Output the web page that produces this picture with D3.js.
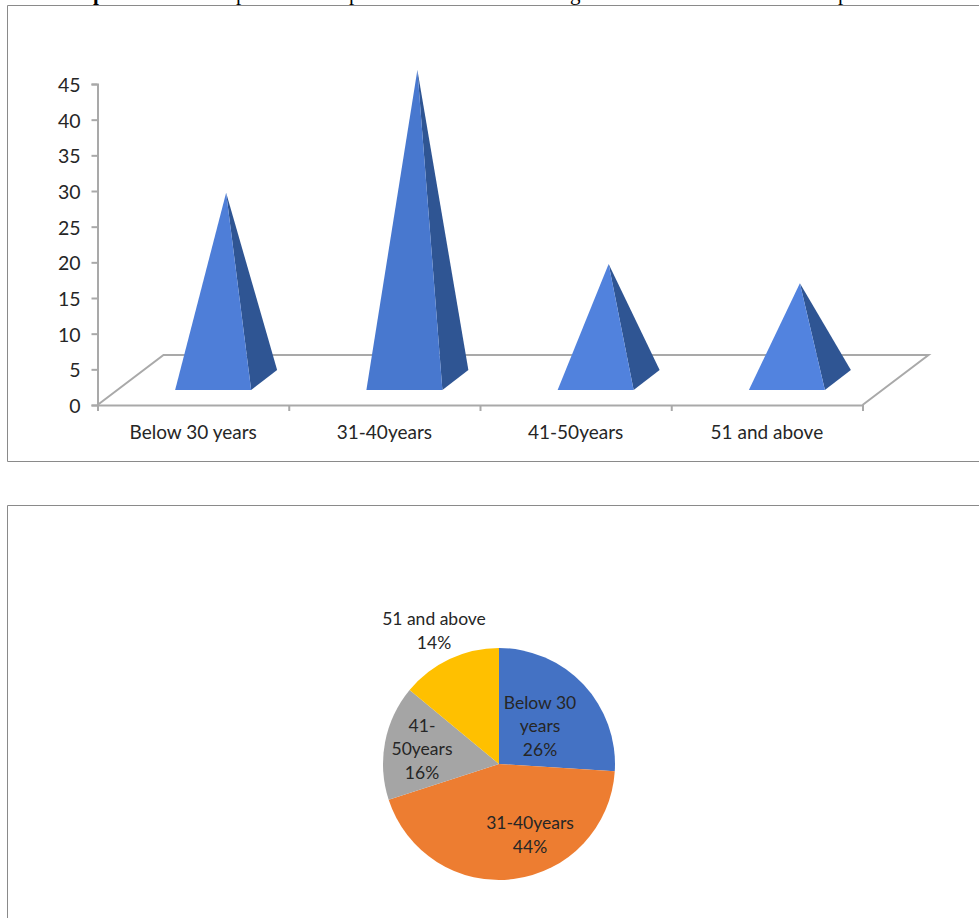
<!DOCTYPE html>
<html>
<head>
<meta charset="utf-8">
<script src="https://cdnjs.cloudflare.com/ajax/libs/d3/7.8.5/d3.min.js"></script>
<style>
  html, body { margin: 0; padding: 0; background: #fff; overflow: hidden; }
  svg { display: block; }
  text { font-family: Lato, "Open Sans", sans-serif; fill: #262626; }
</style>
</head>
<body>
<svg id="chart" width="979" height="918"></svg>
<script>
// Age groups and the two series
const categories = ["Below 30 years", "31-40years", "41-50years", "51 and above"];
const pyramidValues = [26.4, 43.6, 16.4, 13.7];
const yTicks = [0, 5, 10, 15, 20, 25, 30, 35, 40, 45];
const pieShares = [26, 44, 16, 14];
const pieLabels = [
  ["Below 30", "years", "26%"],
  ["31-40years", "44%"],
  ["41-", "50years", "16%"],
  ["51 and above", "14%"]
];
const pieColors = ["#4472c4", "#ed7d31", "#a5a5a5", "#ffc000"];

// Tails of the heading line that runs off the top of the page
const headingGlyphs = ["p", "p", "p", "g", "p"];

const svg = d3.select("#chart");
const gray = "#a9a9a9";

// Panel frames, both open towards the page edge
const frames = svg.append("g").attr("fill", "none").attr("stroke", "#8a8a8a").attr("stroke-width", 1);
frames.append("path").attr("d", "M979,5.5H7.5V461.5H979");
frames.append("path").attr("d", "M979,505.5H7.5V918");

// Heading tails
const headingX = d3.scaleOrdinal().domain(d3.range(5)).range([93, 236, 349, 570, 838]);
svg.append("g").selectAll("text")
  .data(headingGlyphs)
  .join("text")
  .attr("x", (d, i) => headingX(i))
  .attr("y", 0)
  .style("font-family", "'Liberation Serif', serif")
  .style("font-size", "21px")
  .style("font-weight", (d, i) => i === 0 ? "bold" : "normal")
  .style("fill", "#000")
  .text(d => d);

// Pyramid chart
const x = d3.scaleBand().domain(categories).range([97.5, 862.5]);
const y = d3.scaleLinear().domain([0, 45]).range([405, 84]);

// Floor of the 3D plot
const depth = { x: 66, y: -50 };
svg.append("path")
  .attr("d", d3.line()([
    [x.range()[0], y(0)],
    [x.range()[0] + depth.x, y(0) + depth.y],
    [x.range()[1] + depth.x, y(0) + depth.y],
    [x.range()[1], y(0)]
  ]))
  .attr("fill", "#fff")
  .attr("stroke", gray)
  .attr("stroke-width", 2);

// Value axis
const yAxis = svg.append("g")
  .attr("transform", `translate(${x.range()[0]},0)`)
  .call(d3.axisLeft(y).tickValues(yTicks).tickSize(6).tickPadding(11));
yAxis.selectAll("path, line").attr("stroke", gray).attr("stroke-width", 2);
yAxis.selectAll("text").attr("dy", "0.38em").style("font-size", "19.5px").style("font-family", "Lato, sans-serif");

// Category axis: ticks on the band edges, labels in the middle of the band
const edgeScale = d3.scaleLinear().domain([0, categories.length]).range(x.range());
const edgeAxis = svg.append("g")
  .attr("transform", `translate(0,${y(0)})`)
  .call(d3.axisBottom(edgeScale).ticks(categories.length).tickSize(6).tickSizeOuter(0).tickFormat(""));
edgeAxis.selectAll("path, line").attr("stroke", gray).attr("stroke-width", 2);

svg.append("g").selectAll("text")
  .data(categories)
  .join("text")
  .attr("x", d => x(d) + x.bandwidth() / 2)
  .attr("y", 439)
  .attr("text-anchor", "middle")
  .style("font-size", "19px")
  .text(d => d);

// Each pyramid: lit front face and a darker side face
const halfBase = 38;
const baseShift = 20;
const backShift = { x: 26, y: -20 };
const baseY = 390;
const apexBase = y(0) - 24;          // zero level at the pyramid's mid depth
const unit = y(0) - y(1);
const frontFill = d3.scaleLinear().domain([13, 44]).range(["#5283df", "#4878cf"]);

const pyramids = svg.append("g").selectAll("g")
  .data(categories)
  .join("g")
  .attr("transform", d => `translate(${x(d) + x.bandwidth() / 2 + baseShift},0)`);

pyramids.append("path")
  .attr("d", (d, i) => d3.line()([
    [halfBase, baseY],
    [halfBase + backShift.x, baseY + backShift.y],
    [13, apexBase - pyramidValues[i] * unit]
  ]) + "Z")
  .attr("fill", "#2f5593");

pyramids.append("path")
  .attr("d", (d, i) => d3.line()([
    [-halfBase, baseY],
    [halfBase, baseY],
    [13, apexBase - pyramidValues[i] * unit]
  ]) + "Z")
  .attr("fill", (d, i) => frontFill(pyramidValues[i]));

// Pie chart
const pieCenter = [499, 764];
const pieRadius = 116;
const pie = d3.pie().sort(null);
const arc = d3.arc().innerRadius(0).outerRadius(pieRadius);

const pieGroup = svg.append("g").attr("transform", `translate(${pieCenter})`);
pieGroup.selectAll("path")
  .data(pie(pieShares))
  .join("path")
  .attr("d", arc)
  .attr("fill", (d, i) => pieColors[i]);

// Label block centres, relative to the pie centre
const labelAnchors = [[41, -38], [31, 71], [-77, -15], [-65, -133]];
const lineHeight = 23.5;
pieGroup.selectAll("text")
  .data(pieLabels)
  .join("text")
  .attr("transform", (d, i) => `translate(${labelAnchors[i]})`)
  .attr("text-anchor", "middle")
  .style("font-size", "17.5px")
  .each(function(lines) {
    d3.select(this).selectAll("tspan")
      .data(lines)
      .join("tspan")
      .attr("x", 0)
      .attr("y", (d, i) => (i - (lines.length - 1) / 2) * lineHeight)
      .attr("dy", "0.35em")
      .text(d => d);
  });
</script>
</body>
</html>
